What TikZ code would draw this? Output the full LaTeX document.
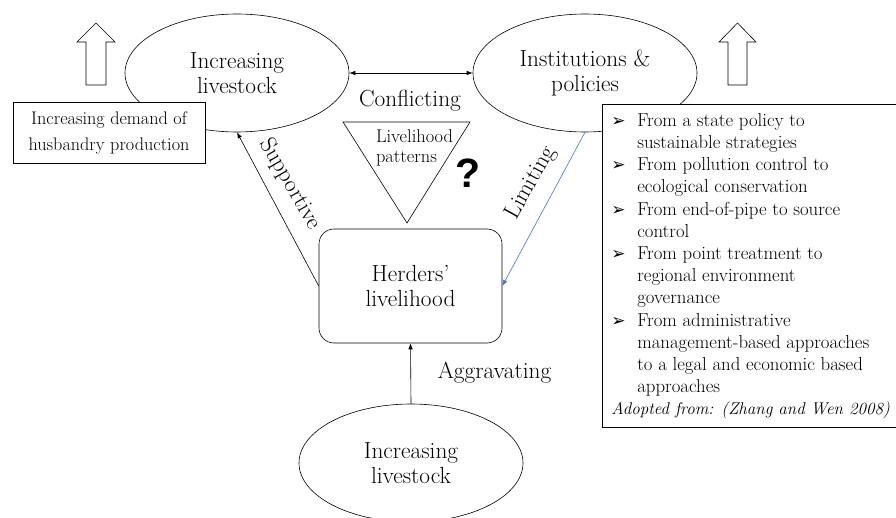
\documentclass[tikz,border=0pt]{standalone}
\usepackage{fontspec}
\newfontfamily\symfont{DejaVu Sans}
\newfontfamily\qfont{Liberation Sans}
\usetikzlibrary{shapes.geometric,arrows.meta}
\definecolor{limitblue}{RGB}{68,114,196}
\newcommand\listmark{\makebox[26pt][l]{\symfont\fontsize{17}{17}\selectfont ➢}}
\begin{document}
\begin{tikzpicture}[x=1pt,y=-1pt,
  line width=0.6pt,
  bigtext/.style={font=\fontsize{23.3}{25}\selectfont},
  oval/.style={draw, ellipse, fill=white, minimum width=224pt, minimum height=118pt,
    inner sep=0pt, align=center, bigtext},
  tip/.style={-{Latex[length=6pt,width=4.5pt]}},
  bothtips/.style={{Latex[length=6pt,width=4.5pt]}-{Latex[length=6pt,width=4.5pt]}},
  blockarrow/.style={draw, fill=white}
]
\useasboundingbox (0,0) rectangle (896,518);

% growth arrows
\draw[blockarrow] (86,85) -- (86,42) -- (77,42) -- (96,23) -- (115,42) -- (106,42) -- (106,85) -- cycle;
\draw[blockarrow] (728,85) -- (728,42) -- (719,42) -- (737.5,23) -- (756,42) -- (747,42) -- (747,85) -- cycle;

% main elements
\node[oval] (lv) at (237,73) {Increasing\\livestock};
\node[oval] (ip) at (585,73) {Institutions \&\\policies};
\node[oval] (bl) at (411,463) {Increasing\\livestock};
\node[draw, rounded corners=15pt, minimum width=183pt, minimum height=114pt,
  align=center, bigtext] (hl) at (410.5,286) {Herders'\\livelihood};

% demand box
\node[draw, fill=white, minimum width=192pt, minimum height=61pt, align=center,
  font=\fontsize{18.2}{26}\selectfont] (dem) at (109,132.5)
  {Increasing demand of\\husbandry production};

% livelihood patterns triangle
\coordinate (tl) at (343,122);
\coordinate (tr) at (470,122);
\coordinate (tb) at (407,223);
\draw (tl) -- (tr) -- (tb) -- cycle;
\node[align=left, inner sep=0pt, font=\fontsize{18.4}{20}\selectfont] (lp) at (414.5,148)
  {Livelihood\\patterns};
\node[font=\qfont\bfseries\fontsize{41}{41}\selectfont, inner sep=0pt] (q) at (468,173) {?};

% relations
\draw[bothtips] (lv.east) -- (ip.west);
\node[bigtext, anchor=base] (cf) at (410,107) {Conflicting};
\draw[tip] (hl.west) -- (lv.south);
\node[bigtext, rotate=-60, inner sep=0pt] (sup) at (290,184) {Supportive};
\draw[tip, limitblue] (ip.south) -- (hl.east);
\node[bigtext, rotate=61, inner sep=0pt] (lim) at (531,183) {Limiting};
\draw[tip] (bl.north) -- (hl.south);
\node[bigtext, anchor=base] (ag) at (494.5,378) {Aggravating};

% policy shifts
\node[draw, fill=white, anchor=north west, minimum width=303pt, minimum height=323pt,
  inner sep=0pt] (pol) at (602,104) {};
\node[anchor=north west, inner sep=0pt, font=\fontsize{18.8}{22.2}\selectfont] (list) at (611,110.5) {%
\begin{tabular}{@{}l@{}l@{}}
\listmark & From a state policy to\\
 & sustainable strategies\\
\listmark & From pollution control to\\
 & ecological conservation\\
\listmark & From end-of-pipe to source\\
 & control\\
\listmark & From point treatment to\\
 & regional environment\\
 & governance\\
\listmark & From administrative\\
 & management-based approaches\\
 & to a legal and economic based\\
 & approaches\\
\multicolumn{2}{@{}l@{}}{\fontsize{17}{22.2}\selectfont\itshape Adopted from: (Zhang and Wen 2008)}
\end{tabular}};
\end{tikzpicture}
\end{document}
